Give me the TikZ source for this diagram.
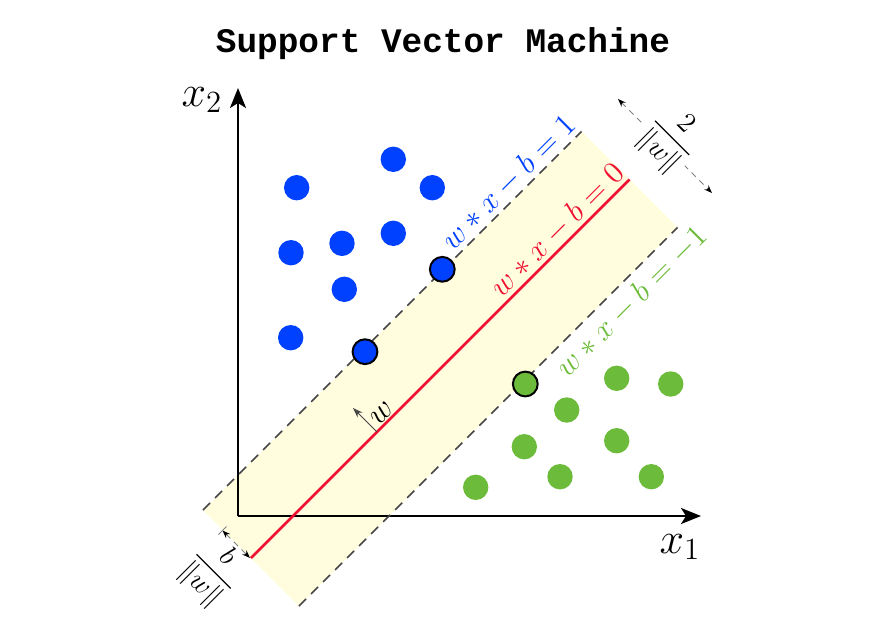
\RequirePackage{fix-cm}
\documentclass[tikz,border=0pt]{standalone}
\usepackage{amsmath,amssymb}
\usepackage{fontspec}
\newfontfamily\titlefont{Liberation Mono}
\usepackage{xcolor}
\usetikzlibrary{arrows.meta,positioning,calc}
\definecolor{svmblue}{RGB}{0,64,255}
\definecolor{svmgreen}{RGB}{108,187,58}
\definecolor{svmred}{RGB}{240,16,48}
\definecolor{svmband}{RGB}{255,253,222}
\definecolor{svmgray}{RGB}{70,70,70}

\begin{document}
\begin{tikzpicture}[x=0.5pt, y=-0.5pt,
  dot/.style={circle, inner sep=0pt, minimum size=12.7pt},
  bluedot/.style={dot, fill=svmblue},
  greendot/.style={dot, fill=svmgreen},
  support/.style={draw=black, line width=1pt, minimum size=12.4pt},
  margin/.style={svmgray, line width=0.75pt, dash pattern=on 5pt off 3.5pt},
  dim/.style={gray, line width=0.5pt, dash pattern=on 3pt off 2.5pt},
  dimtip/.style={{Stealth[length=4pt,width=3pt,black]}-{Stealth[length=4pt,width=3pt,black]}},
  axis/.style={line width=1.2pt, -{Stealth[length=10pt,width=8pt,inset=2.5pt]}},
  eqlabel/.style={rotate=45, font=\fontsize{15.5}{18}\selectfont, inner sep=1.5pt},
  fraclabel/.style={rotate=-45, font=\fontsize{14}{16}\selectfont, inner sep=1pt}]
\useasboundingbox (0,0) rectangle (887,643);
\node[font=\titlefont\bfseries\fontsize{17.2}{20}\selectfont] (title) at (443,44) {Support Vector Machine};
\fill[svmband] (203,510) -- (581.5,131.5) -- (677.5,227.5) -- (299,606) -- cycle;
\coordinate (O) at (238,516);
\coordinate (ytip) at (238,88);
\coordinate (xtip) at (701,516);
\draw[axis] (O) -- (ytip);
\draw[axis] (O) -- (xtip);
\node[font=\fontsize{22}{24}\selectfont] (xtwo) at (202,100) {$x_2$};
\node[font=\fontsize{22}{24}\selectfont] (xone) at (680,547) {$x_1$};
\coordinate (up1) at (203,510);
\coordinate (up2) at (581.5,131.5);
\coordinate (mid1) at (251,558);
\coordinate (mid2) at (629.5,179.5);
\coordinate (lo1) at (299,606);
\coordinate (lo2) at (677.5,227.5);
\draw[margin] (up1) -- (up2);
\draw[margin] (lo1) -- (lo2);
\draw[svmred, line width=1.3pt] (mid1) -- (mid2);
\node[eqlabel, above, text=svmblue] (eqone) at (519.5,193.5) {$w*x-b=1$};
\node[eqlabel, above=0pt, text=svmred] (eqzero) at (568,241) {$w*x-b=0$};
\node[eqlabel, below=3pt, text=svmgreen] (eqminus) at (620.5,284.5) {$w*x-b=-1$};
\coordinate (wbase) at (377,432);
\coordinate (wtip) at (353,408);
\draw[svmgray, line width=0.5pt, -{Stealth[length=5pt,width=3.5pt]}] (wbase) -- (wtip);
\node[rotate=45, font=\fontsize{16}{18}\selectfont, inner sep=1pt] (wlab) at (382,413) {$w$};
\coordinate (dtop) at (618,99);
\coordinate (dbot) at (712,193);
\draw[dim, dimtip] (dtop) -- (dbot);
\node[fraclabel, fill=white] (twow) at (671,139) {$\dfrac{2}{\|w\|}$};
\coordinate (bstart) at (222.5,530.5);
\coordinate (bend) at (250,558);
\draw[dim, dimtip] (bstart) -- (bend);
\draw[gray, line width=0.5pt] (218.5,534.5) -- (226.5,526.5);
\node[fraclabel] (bw) at (213,572) {$\dfrac{b}{\|w\|}$};
\foreach \x/\y [count=\i] in {296.7/187.7, 393.3/159.3, 432.3/187.7, 291/252.7,
  342/243.3, 393.3/233.3, 344.3/289.3, 290.7/337.7}
  \node[bluedot] (b\i) at (\x,\y) {};
\foreach \x/\y [count=\i] in {616.7/378.3, 670.7/384, 566.7/410, 616.7/440.7,
  524.3/446.7, 560/476.7, 651.3/476.7, 475.7/487.3}
  \node[greendot] (g\i) at (\x,\y) {};
\node[bluedot, support] (sv1) at (442.3,269.3) {};
\node[bluedot, support] (sv2) at (365,351.7) {};
\node[greendot, support] (sv3) at (525.3,384) {};
\end{tikzpicture}
\end{document}
